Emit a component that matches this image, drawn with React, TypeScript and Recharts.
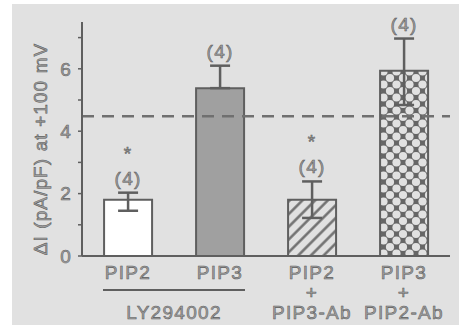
import React from "react";
import { BarChart, Bar, XAxis, YAxis, ErrorBar, ReferenceLine, LabelList, Cell, Label } from "recharts";

// ΔI at +100 mV, mean ± SEM
const categories = ["PIP2", "PIP3", "PIP2\n+\nPIP3-Ab", "PIP3\n+\nPIP2-Ab"];
const means = [1.8, 5.38, 1.8, 5.94];
const errors: [number, number][] = [
  [0.35, 0.23],
  [0, 0.72],
  [0.58, 0.59],
  [1.1, 1.03],
];
const nCounts = [4, 4, 4, 4];
const significant = [true, false, true, false];
const fills = ["#ffffff", "#a0a0a0", "url(#hatch)", "url(#cross)"];
const controlLevel = 4.48;
const yTicks = [0, 1, 2, 3, 4, 5, 6, 7];
const groupLabel = "LY294002";

const data = categories.map((name, i) => ({ name, mean: means[i], err: errors[i] }));

const INK = "#5f5f5f";
const textStyle = {
  fontFamily: "'Liberation Sans', Arial, sans-serif",
  fontSize: 19,
  fill: "#a0a0a0",
  stroke: "#5c5c5c",
  strokeWidth: 0.55,
  letterSpacing: 1.3,
};

function XTick(props: any) {
  const { x, y, payload, index } = props;
  const lines = String(payload.value).split("\n");
  return (
    <g>
      <text x={x} y={y + 23} textAnchor="middle" style={textStyle}>
        {lines.map((l, i) => (
          <tspan key={i} x={x} dy={i === 0 ? 0 : 20}>
            {l}
          </tspan>
        ))}
      </text>
      {index === 0 && (
        <g>
          <line x1={x - 25} x2={x + 117} y1={y + 34} y2={y + 34} stroke={INK} strokeWidth={2} />
          <text x={x + 46} y={y + 63} textAnchor="middle" style={textStyle}>
            {groupLabel}
          </text>
        </g>
      )}
    </g>
  );
}

function CountLabel(props: any) {
  const { x, y, width, height, index } = props;
  const perUnit = height / means[index];
  const top = y - errors[index][1] * perUnit;
  const cx = x + width / 2;
  return (
    <g>
      <text x={cx} y={top - 8} textAnchor="middle" style={textStyle}>
        ({nCounts[index]})
      </text>
      {significant[index] && (
        <text x={cx} y={top - 33} textAnchor="middle" style={textStyle}>
          *
        </text>
      )}
    </g>
  );
}

function YLabel(props: any) {
  const { viewBox } = props;
  const cx = 40;
  const cy = viewBox.y + viewBox.height / 2 + 10;
  return (
    <text
      x={cx}
      y={cy}
      textAnchor="middle"
      dominantBaseline="central"
      transform={`rotate(-90 ${cx} ${cy})`}
      style={{ ...textStyle, letterSpacing: 1.1 }}
    >
      ΔI (pA/pF) at +100 mV
    </text>
  );
}

export default function App() {
  return (
    <div style={{ position: "absolute", left: 0, top: 0, width: 459, height: 326, background: "#fff" }}>
      <div style={{ position: "absolute", left: 12, top: 4, width: 447, height: 321, background: "#e1e1e1" }} />
      <svg width={0} height={0} style={{ position: "absolute" }}>
        <defs>
          <pattern id="hatch" patternUnits="userSpaceOnUse" width={9} height={9} patternTransform="rotate(45)">
            <rect width={9} height={9} fill="#e1e1e1" />
            <line x1={4.5} y1={0} x2={4.5} y2={9} stroke="#6a6a6a" strokeWidth={2.4} />
          </pattern>
          <pattern id="cross" patternUnits="userSpaceOnUse" width={13} height={13}>
            <rect width={13} height={13} fill="#666666" />
            <circle cx={6.5} cy={6.5} r={4.1} fill="#e1e1e1" />
            <circle cx={0} cy={0} r={4.1} fill="#e1e1e1" />
            <circle cx={13} cy={0} r={4.1} fill="#e1e1e1" />
            <circle cx={0} cy={13} r={4.1} fill="#e1e1e1" />
            <circle cx={13} cy={13} r={4.1} fill="#e1e1e1" />
          </pattern>
        </defs>
      </svg>
      <div style={{ position: "absolute", left: 0, top: 0 }}>
        <BarChart
          width={459}
          height={326}
          data={data}
          margin={{ top: 22, right: 9, bottom: 0, left: 0 }}
          barCategoryGap="24%"
        >
          <XAxis
            dataKey="name"
            interval={0}
            tickLine={false}
            tickSize={0}
            tickMargin={0}
            axisLine={{ stroke: INK, strokeWidth: 2 }}
            tick={<XTick />}
            height={70}
          />
          <YAxis
            type="number"
            domain={[0, 7.5]}
            ticks={yTicks}
            interval={0}
            width={82}
            tickSize={4}
            tickMargin={6}
            axisLine={{ stroke: INK, strokeWidth: 2 }}
            tickLine={{ stroke: INK, strokeWidth: 1.5 }}
            tick={textStyle}
            tickFormatter={(v: number) => (v % 2 === 0 ? String(v) : "")}
          >
            <Label content={<YLabel />} />
          </YAxis>
          <ReferenceLine y={controlLevel} stroke="#707070" strokeWidth={2.5} strokeDasharray="12 8" />
          <Bar dataKey="mean" stroke={INK} strokeWidth={2} isAnimationActive={false}>
            {data.map((_, i) => (
              <Cell key={i} fill={fills[i]} />
            ))}
            <ErrorBar dataKey="err" width={10} stroke={INK} strokeWidth={2.5} direction="y" />
            <LabelList dataKey="mean" content={<CountLabel />} />
          </Bar>
        </BarChart>
      </div>
    </div>
  );
}
